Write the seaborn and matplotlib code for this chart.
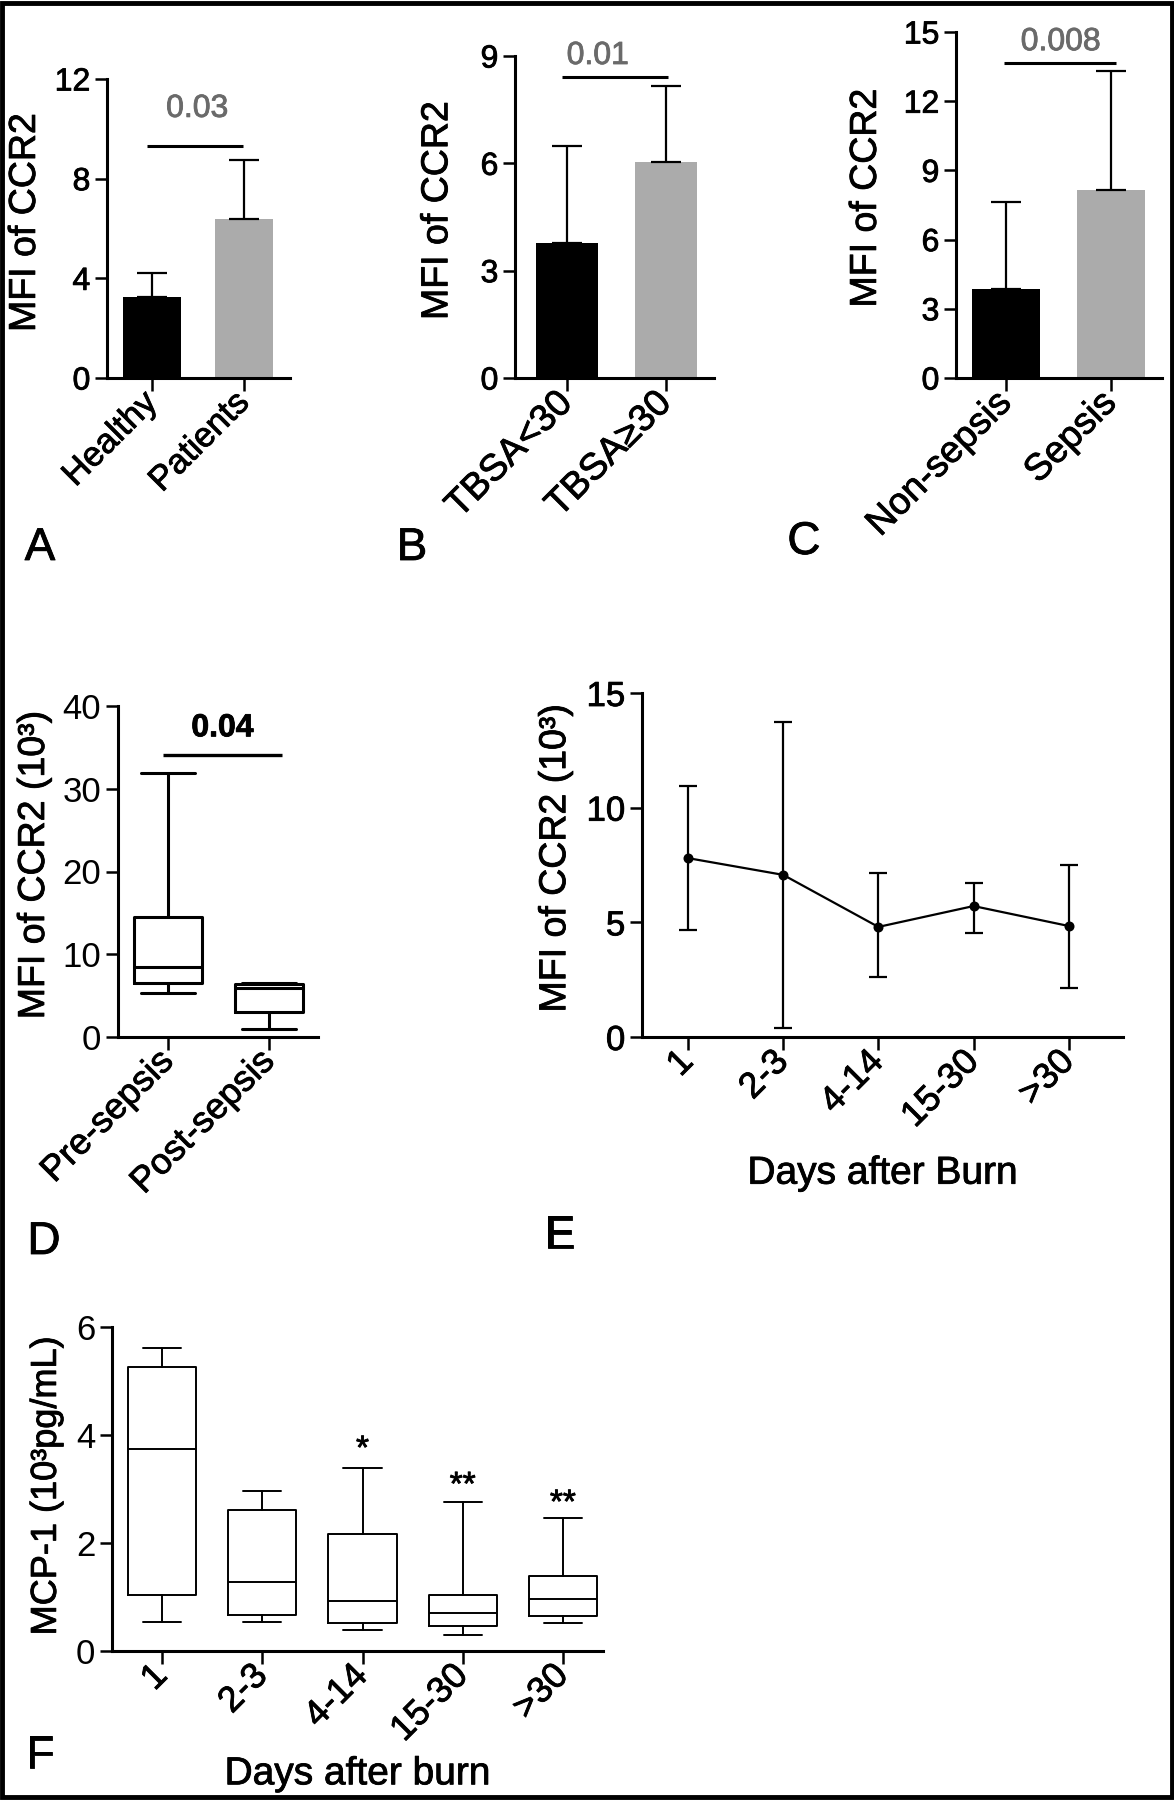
import matplotlib
matplotlib.use("Agg")
import matplotlib.pyplot as plt
import matplotlib.patheffects as pe
from matplotlib.patches import Rectangle
from matplotlib.text import Text
import pandas as pd
import seaborn as sns

# ---------------- data ----------------
a_cats = ["Healthy", "Patients"]
a_mean = [3.25, 6.4]
a_err = [0.95, 2.35]
a_sig = 9.3
a_p = "0.03"

b_cats = ["TBSA<30", "TBSA\u226530"]
b_mean = [3.77, 6.04]
b_err = [2.71, 2.12]
b_sig = 8.4
b_p = "0.01"

c_cats = ["Non-sepsis", "Sepsis"]
c_mean = [3.87, 8.15]
c_err = [3.75, 5.15]
c_sig = 13.65
c_p = "0.008"

d_cats = ["Pre-sepsis", "Post-sepsis"]
d_whislo = [5.3, 0.95]
d_q1 = [6.5, 3.0]
d_med = [8.45, 5.9]
d_q3 = [14.5, 6.4]
d_whishi = [31.9, 6.5]
d_sig = 34.1
d_p = "0.04"

e_cats = ["1", "2-3", "4-14", "15-30", ">30"]
e_mean = [7.8, 7.07, 4.8, 5.71, 4.84]
e_low = [4.67, 0.39, 2.62, 4.54, 2.14]
e_high = [10.95, 13.74, 7.15, 6.72, 7.5]

f_cats = ["1", "2-3", "4-14", "15-30", ">30"]
f_whislo = [0.54, 0.54, 0.39, 0.30, 0.52]
f_q1 = [1.04, 0.67, 0.52, 0.46, 0.65]
f_med = [3.74, 1.28, 0.93, 0.70, 0.96]
f_q3 = [5.26, 2.61, 2.17, 1.04, 1.39]
f_whishi = [5.61, 2.96, 3.39, 2.76, 2.46]
f_stars = ["", "", "*", "**", "**"]
f_star_y = [0, 0, 3.72, 3.05, 2.72]

# ---------------- style ----------------
sns.set_theme(style="ticks")
plt.rcParams["font.family"] = ["Liberation Sans", "DejaVu Sans"]

BLACK = "#000000"
GREY = "#ababab"
W, H = 1174, 1800
fig = plt.figure(figsize=(W / 100, H / 100), dpi=100)
fig.patch.set_facecolor("white")


def rect(l, r, t, b):
    return [l / W, 1 - b / H, (r - l) / W, (b - t) / H]


def style(ax, ylim, yticks, xlim, xlabsize=24, ylabsize=23, spine_lw=2.2):
    ax.set_ylim(*ylim)
    ax.set_yticks(yticks)
    ax.set_xlim(*xlim)
    for s in ["top", "right"]:
        ax.spines[s].set_visible(False)
    for s in ["left", "bottom"]:
        ax.spines[s].set_linewidth(spine_lw)
        ax.spines[s].set_color("black")
    ax.tick_params(axis="both", direction="out", length=9, width=1.8,
                   color="black", labelcolor="black", pad=3)
    ax.tick_params(axis="y", labelsize=ylabsize)
    ax.tick_params(axis="x", labelsize=xlabsize, pad=5)
    for lab in ax.get_xticklabels():
        lab.set_rotation(45)
        lab.set_ha("right")
        lab.set_va("center")
        lab.set_rotation_mode("anchor")
    ax.set_xlabel("")
    ax.grid(False)
    ax.set_facecolor("none")


def bar_panel(px, cats, means, errs, ylim, yticks, xlim, width, sig, p,
              sig_x, p_xy, ylabel, lab_x, xlabsize):
    ax = fig.add_axes(rect(*px))
    df = pd.DataFrame({"g": cats, "v": means})
    sns.barplot(data=df, x="g", y="v", hue="g", palette=[BLACK, GREY],
                width=width, errorbar=None, legend=False, saturation=1,
                linewidth=0, ax=ax)
    ax.errorbar(range(len(cats)), means, yerr=[[0] * len(cats), errs],
                fmt="none", ecolor="black", elinewidth=1.6, capsize=10.5,
                capthick=1.6, zorder=3)
    ax.plot(sig_x, [sig, sig], color="black", lw=2.2, solid_capstyle="butt")
    ax.text(p_xy[0], p_xy[1], p, ha="center", va="center", fontsize=23,
            color="#6a6a6a")
    style(ax, ylim, yticks, xlim, xlabsize=xlabsize, ylabsize=23)
    ax.set_ylabel(ylabel, fontsize=27, color="black")
    ax.yaxis.set_label_coords(lab_x, 0.52)
    return ax


# A
bar_panel((107, 290, 79, 378), a_cats, a_mean, a_err, (0, 12), [0, 4, 8, 12],
          (-0.49, 1.5), 0.64, a_sig, a_p, [-0.05, 0.99], (0.49, 10.8),
          "MFI of CCR2", -0.35, 25)
# B
bar_panel((515, 714, 56, 378), b_cats, b_mean, b_err, (0, 9), [0, 3, 6, 9],
          (-0.525, 1.485), 0.63, b_sig, b_p, [-0.05, 1.02], (0.31, 9.0),
          "MFI of CCR2", -0.30, 27)
# C
bar_panel((956, 1162, 32, 378), c_cats, c_mean, c_err, (0, 15),
          [0, 3, 6, 9, 12, 15], (-0.476, 1.486), 0.65, c_sig, c_p,
          [-0.02, 1.05], (0.52, 14.56), "MFI of CCR2", -0.35, 27)

# D (box plot)
axd = fig.add_axes(rect(118, 318, 706, 1037))
d_stats = [dict(whislo=d_whislo[i], q1=d_q1[i], med=d_med[i], q3=d_q3[i],
                whishi=d_whishi[i], fliers=[], label=d_cats[i])
           for i in range(len(d_cats))]
lw_d = 2.2
axd.bxp(d_stats, positions=range(len(d_cats)), widths=0.67, capwidths=0.53,
        showfliers=False,
        boxprops=dict(color="black", lw=lw_d),
        medianprops=dict(color="black", lw=lw_d),
        whiskerprops=dict(color="black", lw=lw_d),
        capprops=dict(color="black", lw=lw_d))
axd.set_xticks(range(len(d_cats)), d_cats)
axd.plot([-0.05, 1.13], [d_sig, d_sig], color="black", lw=2.4,
         solid_capstyle="butt")
axd.text(0.54, 37.3, d_p, ha="center", va="center", fontsize=23,
         fontweight="bold", color="black")
style(axd, (0, 40), [0, 10, 20, 30, 40], (-0.495, 1.485), xlabsize=26,
      ylabsize=25)
axd.set_ylabel("MFI of CCR2 (10\u00b3)", fontsize=27, color="black")
axd.yaxis.set_label_coords(-0.33, 0.52)

# E (point/line plot)
axe = fig.add_axes(rect(642, 1123, 693, 1037))
dfe = pd.DataFrame({"g": e_cats, "v": e_mean})
sns.pointplot(data=dfe, x="g", y="v", color="black", errorbar=None,
              markers="o", markersize=6, linewidth=1.6, ax=axe)
e_yerr = [[m - l for m, l in zip(e_mean, e_low)],
          [h - m for m, h in zip(e_mean, e_high)]]
axe.errorbar(range(len(e_cats)), e_mean, yerr=e_yerr, fmt="none",
             ecolor="black", elinewidth=1.6, capsize=6.5, capthick=1.6,
             zorder=3)
style(axe, (0, 15), [0, 5, 10, 15], (-0.483, 4.57), xlabsize=26,
      ylabsize=25)
axe.set_ylabel("MFI of CCR2 (10\u00b3)", fontsize=27, color="black")
axe.yaxis.set_label_coords(-0.143, 0.52)
axe.set_xlabel("Days after Burn", fontsize=28, color="black")
axe.xaxis.set_label_coords(0.5, -0.345)

# F (box plot)
axf = fig.add_axes(rect(112, 603, 1327, 1651))
f_stats = [dict(whislo=f_whislo[i], q1=f_q1[i], med=f_med[i], q3=f_q3[i],
                whishi=f_whishi[i], fliers=[], label=f_cats[i])
           for i in range(len(f_cats))]
lw_f = 1.4
axf.bxp(f_stats, positions=range(len(f_cats)), widths=0.68, capwidths=0.38,
        showfliers=False,
        boxprops=dict(color="black", lw=lw_f),
        medianprops=dict(color="black", lw=lw_f),
        whiskerprops=dict(color="black", lw=lw_f),
        capprops=dict(color="black", lw=lw_f))
axf.set_xticks(range(len(f_cats)), f_cats)
for i, s in enumerate(f_stars):
    if s:
        axf.text(i, f_star_y[i], s, ha="center", va="center", fontsize=24,
                 color="black")
style(axf, (0, 6), [0, 2, 4, 6], (-0.5, 4.4), xlabsize=26, ylabsize=25)
axf.set_ylabel("MCP-1 (10\u00b3pg/mL)", fontsize=26, color="black")
axf.yaxis.set_label_coords(-0.098, 0.51)
axf.set_xlabel("Days after burn", fontsize=28, color="black")
axf.xaxis.set_label_coords(0.5, -0.325)

# panel letters
for letter, (x, y) in {"A": (40, 548), "B": (412, 548), "C": (804, 542),
                       "D": (44, 1242), "E": (560, 1236),
                       "F": (40, 1756)}.items():
    fig.text(x / W, 1 - y / H, letter, ha="center", va="center",
             fontsize=33, color="black")

# slightly heavier text, like the scanned original
for t in fig.findobj(Text):
    if t.get_text():
        t.set_path_effects([pe.withStroke(linewidth=0.6,
                                          foreground=t.get_color())])

# outer frame
fig.patches.append(Rectangle((0.002, 0.0015), 0.996, 0.997,
                             transform=fig.transFigure, fill=False,
                             edgecolor="black", lw=3.5))

fig.savefig("out.png", dpi=100, facecolor="white")
